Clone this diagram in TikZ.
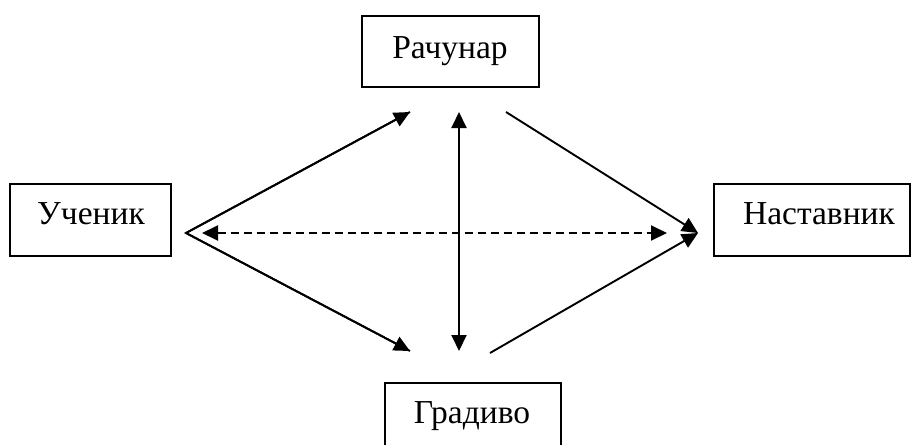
\documentclass[tikz,border=0pt]{standalone}
\usepackage{fontspec}
\setmainfont{Liberation Serif}
\usetikzlibrary{arrows.meta}
\begin{document}
\begin{tikzpicture}[x=1pt,y=-1pt,
  box/.style={draw,line width=2.2pt,inner sep=0pt},
  lbl/.style={font=\fontsize{33.5}{38}\selectfont},
  tip/.style={},
  conn/.style={line width=1.9pt,-{Triangle[length=16pt,width=15pt]}},
  dconn/.style={line width=1.9pt,{Triangle[length=16pt,width=15pt]}-{Triangle[length=16pt,width=15pt]}},
  dashconn/.style={line width=1.9pt,dash pattern=on 8pt off 5pt,{Triangle[length=16pt,width=15pt]}-{Triangle[length=16pt,width=15pt]}}]
\clip (0,0) rectangle (912,444);
\fill[white] (0,0) rectangle (912,444);
% boxes
\node[box,minimum width=161pt,minimum height=72pt] (uc) at (90.5,220) {};
\node[lbl] at (91,214) {Ученик};
\node[box,minimum width=177pt,minimum height=71pt] (ra) at (450.5,51.5) {};
\node[lbl] at (450,51) {Рачунар};
\node[box,minimum width=176pt,minimum height=72pt] (gr) at (473,419) {};
\node[lbl] at (472,416) {Градиво};
\node[box,minimum width=196pt,minimum height=72pt] (na) at (812,220) {};
\node[lbl] at (819,214) {Наставник};
% connector points
\coordinate (v) at (186,233);
\coordinate (raL) at (410,112);
\coordinate (grL) at (410,351);
\coordinate (raC) at (459,112);
\coordinate (grC) at (459,351);
\coordinate (raR) at (506,112);
\coordinate (grR) at (490,353);
\coordinate (naT) at (698,233);
\coordinate (dL) at (202,233);
\coordinate (dR) at (667,233);
\draw[line width=1.9pt,line join=miter] (raL) -- (v) -- (grL);
\draw[conn] (v) -- (raL);
\draw[conn] (v) -- (grL);
\draw[dconn] (grC) -- (raC);
\draw[conn] (raR) -- (naT);
\draw[conn] (grR) -- (naT);
\draw[dashconn] (dL) -- (dR);
\end{tikzpicture}
\end{document}
